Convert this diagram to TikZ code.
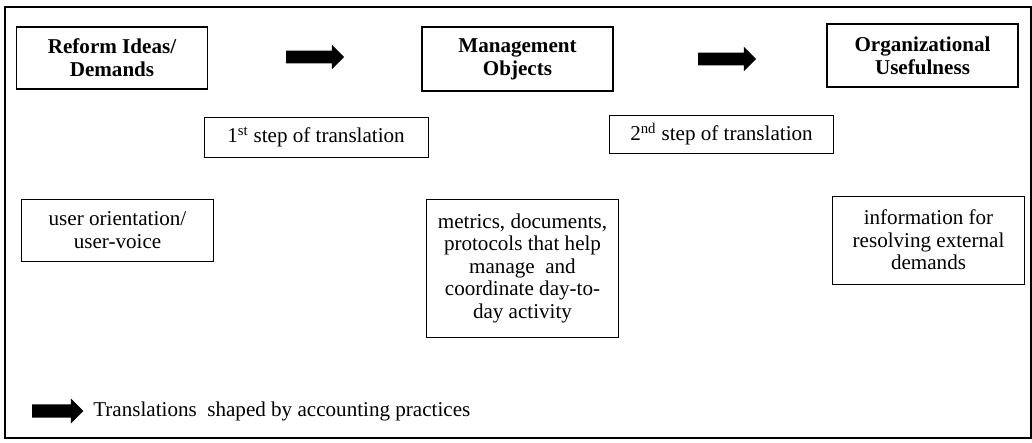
\documentclass[tikz,border=0pt]{standalone}
\usepackage{fontspec}
\setmainfont{Liberation Serif}
\usepackage{tikz}
\usetikzlibrary{shapes.arrows}

\begin{document}
\begin{tikzpicture}[x=0.025cm,y=-0.025cm,
  txt/.style={font=\fontsize{15}{16}\selectfont,align=center,inner sep=0pt},
  headbox/.style={txt,draw,line width=1.2pt,font=\bfseries\fontsize{15}{16.5}\selectfont,minimum width=4.77cm},
  plainbox/.style={txt,draw,line width=0.6pt,minimum width=4.78cm},
  stepbox/.style={txt,draw,line width=0.6pt},
  blockarrow/.style={single arrow,fill=black,draw=none,inner xsep=0pt,inner ysep=0.15cm,minimum height=1.45cm,minimum width=0.6cm,single arrow head extend=0.15cm}]
\useasboundingbox (0,0) rectangle (1032,442);
\draw[line width=1pt] (5,438) -- (5,7) -- (1031,7) -- (1031,438) -- cycle;
% top row
\node[headbox,minimum height=1.55cm] (reform) at (112,58) {Reform Ideas/\\Demands};
\node[headbox,minimum height=1.6cm] (mgmt) at (517.5,59) {Management\\Objects};
\node[headbox,minimum height=1.58cm] (org) at (922.5,55.5) {Organizational\\Usefulness};
\node[blockarrow] (arrone) at (312,57) {};
\node[blockarrow] (arrtwo) at (724,59) {};
% steps
\node[stepbox,minimum width=5.6cm,minimum height=1cm] (stepone) at (316,137) {1\textsuperscript{st} step of translation};
\node[stepbox,minimum width=5.58cm,minimum height=0.95cm] (steptwo) at (721.5,134) {2\textsuperscript{nd} step of translation};
% examples
\node[plainbox,minimum height=1.55cm] (user) at (117.5,230) {user orientation/\\user-voice};
\node[plainbox,minimum height=3.45cm] (metrics) at (522.5,268) {metrics, documents,\\protocols that help\\manage\ \ and\\coordinate day-to-\\day activity};
\node[plainbox,minimum height=2.2cm] (info) at (928.5,240) {information for\\resolving external\\demands};
% legend
\node[blockarrow,minimum height=1.28cm,minimum width=0.62cm,inner ysep=0.16cm,single arrow head extend=0.15cm] (keyarr) at (54.5,411) {};
\node[txt,anchor=west] (keytxt) at (93,411) {Translations\ \ shaped by accounting practices};
\end{tikzpicture}
\end{document}
